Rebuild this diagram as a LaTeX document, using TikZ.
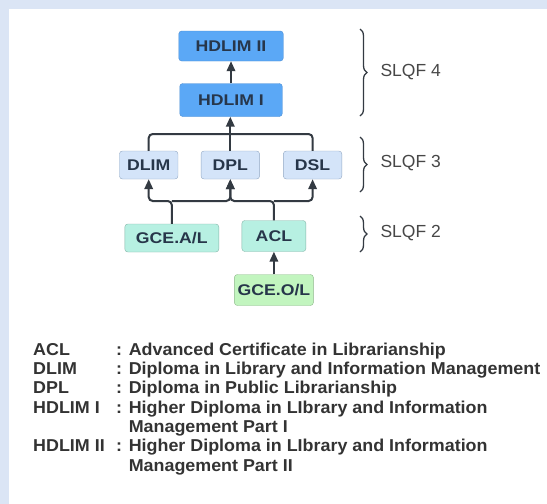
\documentclass[tikz,border=0pt]{standalone}
\usepackage{fontspec}
\setmainfont{Liberation Sans}
\newfontfamily\boxfont{Liberation Sans}[FakeStretch=1.14]
\newfontfamily\keyfont{Liberation Sans}[FakeStretch=1.04]
\usetikzlibrary{arrows.meta,decorations.pathreplacing}
\definecolor{frameblue}{HTML}{DBE5F5}
\definecolor{hdblue}{HTML}{5BA8F6}
\definecolor{hdedge}{HTML}{4A8CD4}
\definecolor{dipblue}{HTML}{D4E4F9}
\definecolor{dipedge}{HTML}{93A9C4}
\definecolor{mint}{HTML}{B7F0E2}
\definecolor{mintedge}{HTML}{86B5A8}
\definecolor{olgreen}{HTML}{C2F5BF}
\definecolor{oledge}{HTML}{8DB88A}
\definecolor{ink}{HTML}{27364A}
\definecolor{wire}{HTML}{333A42}

\begin{document}
\begin{tikzpicture}[x=1pt,y=-1pt,>=Stealth,
  box/.style={rounded corners=3pt,inner sep=0pt,text=ink,
    font=\boxfont\fontsize{15.5}{18}\selectfont\bfseries},
  hdbox/.style={box,fill=hdblue,draw=hdedge},
  dipbox/.style={box,fill=dipblue,draw=dipedge},
  mintbox/.style={box,fill=mint,draw=mintedge},
  olbox/.style={box,fill=olgreen,draw=oledge},
  wireline/.style={draw=wire,line width=2pt,rounded corners=4pt},
  arr/.style={wireline,-{Triangle[width=8.5pt,length=10pt]}},
  lvlbrace/.style={draw=wire,line width=1.3pt,
    decorate,decoration={brace,amplitude=7pt}},
  lvl/.style={anchor=west,text=black!72,font=\fontsize{17.5}{20}\selectfont}]
  % Frame and page.
  \fill[frameblue] (0,0) rectangle (547,504);
  \fill[white] (9,9) rectangle (547,504);
  \useasboundingbox (0,0) rectangle (547,504);

  % SLQF 4
  \node[hdbox,minimum width=104.5pt,minimum height=30pt] (hdlimII) at (231,46) {HDLIM II};
  \node[hdbox,minimum width=102.5pt,minimum height=33pt] (hdlimI) at (231,100) {HDLIM I};
  % SLQF 3
  \node[dipbox,minimum width=58.5pt,minimum height=28pt] (dlim) at (148.7,165) {DLIM};
  \node[dipbox,minimum width=58.5pt,minimum height=28pt] (dpl) at (230.3,165) {DPL};
  \node[dipbox,minimum width=58.5pt,minimum height=28pt] (dsl) at (312.6,165) {DSL};
  % SLQF 2 and entry
  \node[mintbox,minimum width=94pt,minimum height=28pt] (gceal) at (171.8,238) {GCE.A/L};
  \node[mintbox,minimum width=64pt,minimum height=31pt] (acl) at (273.9,236) {ACL};
  \node[olbox,minimum width=79pt,minimum height=31pt] (gceol) at (273.9,290) {GCE.O/L};

  % Connectors.
  \coordinate (hub) at (230.3,134);
  \coordinate (busA) at (171.8,201);
  \coordinate (busB) at (273.9,201);
  \draw[arr] (hdlimI.north) -- (hdlimII.south);
  \draw[wireline] (dlim.north) |- (hub);
  \draw[wireline] (dsl.north) |- (hub);
  \draw[wireline] (dpl.north) -- (hub);
  \draw[arr] (hub) -- (hub |- hdlimI.south);
  \draw[arr] (gceal.north) -- (busA) -| (dlim.south);
  \draw[arr] (busA) -| (dpl.south);
  \draw[arr] (acl.north) -- (busB) -| (dpl.south);
  \draw[arr] (busB) -| (dsl.south);
  \draw[arr] (gceol.north) -- (acl.south);

  % Level braces.
  \draw[lvlbrace] (360,29) -- (360,116);
  \draw[lvlbrace] (360,137) -- (360,192);
  \draw[lvlbrace] (360,216) -- (360,252);
  \node[lvl] (slqf4) at (377,72) {SLQF 4};
  \node[lvl] (slqf3) at (377,163) {SLQF 3};
  \node[lvl] (slqf2) at (377,233) {SLQF 2};

  % Key to the abbreviations.
  \node[anchor=north west,inner sep=0pt,text=black!80,
    font=\keyfont\fontsize{17.2}{19.3}\selectfont\bfseries] (key) at (33,341.5) {%
    \begin{tabular}{@{}p{83pt}@{}l@{}}
      ACL & : Advanced Certificate in Librarianship\\
      DLIM & : Diploma in Library and Information Management\\
      DPL & : Diploma in Public Librarianship\\
      HDLIM I & : Higher Diploma in LIbrary and Information\\
       & \phantom{: }Management Part I\\
      HDLIM II & : Higher Diploma in LIbrary and Information\\
       & \phantom{: }Management Part II
    \end{tabular}};
\end{tikzpicture}
\end{document}
